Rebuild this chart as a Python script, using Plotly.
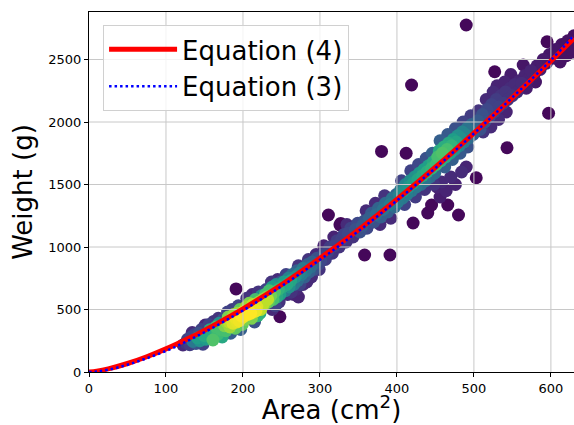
import plotly.graph_objects as go

# ---- tick labels ----
x_ticks = [0, 100, 200, 300, 400, 500, 600]
y_ticks = [0, 500, 1000, 1500, 2000, 2500]

# ---- fitted curves ----
curve_area = [0, 10, 25, 50, 75, 100, 125, 150, 175, 200, 250, 300, 350, 400, 450, 500, 550, 600, 630]
eq4_weight = [0, 7, 25, 68, 122, 185, 256, 333, 417, 505, 698, 910, 1137, 1381, 1638, 1911, 2195, 2488, 2670]
eq3_weight = [0, 4, 18, 58, 110, 168, 240, 318, 403, 492, 686, 898, 1127, 1372, 1632, 1908, 2198, 2495, 2694]

# ---- scatter points: (area cm2, weight g, point density 0..1) ----
pts_120_150 = [(126, 232, .15), (128, 262, .2), (131, 218, .18), (133, 280, .22), (135, 245, .4),
               (137, 300, .2), (139, 228, .25), (141, 272, .55), (143, 310, .25), (144, 250, .5),
               (134, 316, .12), (151, 376, .12), (146, 340, .2), (148, 222, .2), (150, 290, .6),
               (122, 216, .12)]
pts_150_175 = [(152, 262, .55), (155, 300, .6), (157, 338, .6), (159, 280, .6), (161, 256, .72),
               (163, 320, .62), (165, 360, .7), (167, 300, .68), (169, 390, .5), (171, 340, .7),
               (173, 280, .6), (174, 420, .25), (156, 380, .2), (162, 405, .15), (168, 430, .15)]
pts_175_200 = [(176, 370, .8), (178, 330, .7), (179, 400, .85), (181, 440, .8), (183, 360, .85),
               (185, 420, .92), (187, 390, .95), (188, 460, .85), (190, 350, .75), (191, 430, .97),
               (193, 470, .85), (195, 410, .98), (196, 500, .75), (198, 450, 1.0), (199, 380, .75),
               (180, 480, .2), (186, 500, .18), (194, 530, .2), (197, 340, .3), (184, 310, .3),
               (200, 440, .99), (192, 400, .96), (182, 400, .9)]
pts_200_225 = [(201, 480, .98), (203, 420, .8), (204, 520, .85), (206, 460, 1.0), (208, 550, .8),
               (209, 500, .97), (211, 430, .8), (213, 540, .9), (214, 480, .9), (216, 580, .7),
               (218, 520, .95), (219, 450, .65), (221, 560, .85), (223, 500, .9), (224, 610, .5),
               (205, 590, .15), (212, 620, .12), (220, 640, .15), (215, 400, .25), (222, 470, .6),
               (210, 470, 1.0), (217, 490, .97)]
pts_225_250 = [(226, 580, .85), (228, 540, .8), (229, 620, .7), (231, 600, .82), (233, 560, .75),
               (234, 650, .7), (236, 610, .78), (238, 680, .55), (239, 580, .7), (241, 640, .72),
               (243, 700, .5), (244, 600, .6), (246, 660, .65), (248, 620, .55), (249, 720, .25),
               (230, 660, .2), (237, 720, .15), (242, 530, .2), (247, 560, .15), (245, 740, .12),
               (238, 500, .12), (226, 540, .9), (232, 580, .9)]
pts_250_300 = [(251, 680, .6), (253, 720, .55), (255, 650, .4), (257, 700, .6), (259, 750, .45),
               (260, 680, .5), (262, 730, .58), (264, 780, .35), (266, 700, .4), (268, 760, .5),
               (270, 810, .3), (271, 730, .35), (273, 790, .45), (274, 700, .2), (256, 780, .2),
               (263, 640, .15), (269, 660, .12), (272, 850, .15), (258, 620, .12),
               (276, 780, .42), (278, 830, .4), (280, 760, .3), (282, 810, .38), (284, 860, .3),
               (286, 800, .3), (288, 840, .35), (290, 880, .3), (292, 820, .25), (294, 870, .3),
               (296, 910, .25), (298, 860, .22), (283, 720, .12), (289, 760, .12), (295, 940, .12),
               (285, 900, .15), (299, 820, .15), (266, 620, .1), (272, 600, .1), (278, 700, .12)]
pts_300_350 = [(301, 890, .22), (304, 940, .2), (307, 900, .18), (310, 960, .2), (313, 1000, .18),
               (316, 950, .15), (319, 1010, .2), (322, 1050, .18), (325, 1000, .15), (328, 1060, .2),
               (331, 1100, .2), (334, 1040, .15), (337, 1110, .22), (340, 1150, .2), (343, 1080, .15),
               (346, 1140, .25), (349, 1190, .22), (305, 1010, .1), (318, 1080, .1), (335, 1180, .12)]
pts_350_400 = [(352, 1120, .25), (355, 1170, .28), (358, 1210, .25), (361, 1150, .22), (364, 1230, .3),
               (367, 1270, .28), (370, 1200, .25), (373, 1260, .35), (376, 1310, .32), (379, 1240, .3),
               (382, 1300, .38), (385, 1350, .35), (388, 1280, .3), (391, 1340, .42), (394, 1390, .38),
               (397, 1320, .35), (399, 1420, .32), (360, 1290, .12), (372, 1350, .12), (384, 1410, .15),
               (378, 1180, .12), (392, 1230, .12)]
pts_400_450 = [(401, 1360, .42), (403, 1420, .45), (405, 1460, .4), (407, 1390, .4), (409, 1450, .5),
               (411, 1500, .45), (413, 1420, .42), (415, 1480, .52), (417, 1530, .48), (419, 1450, .4),
               (421, 1510, .55), (423, 1560, .5), (425, 1480, .4), (427, 1540, .58), (429, 1590, .52),
               (431, 1500, .35), (433, 1570, .6), (435, 1620, .55), (437, 1530, .38), (439, 1600, .62),
               (441, 1650, .56), (443, 1560, .35), (445, 1630, .65), (447, 1680, .6), (449, 1590, .35),
               (406, 1530, .2), (418, 1610, .2), (428, 1660, .22), (438, 1710, .25), (446, 1750, .3),
               (410, 1340, .2), (424, 1400, .18), (436, 1460, .15), (448, 1500, .15)]
pts_450_500 = [(451, 1660, .68), (453, 1720, .7), (455, 1770, .6), (457, 1690, .62), (459, 1750, .72),
               (461, 1800, .62), (463, 1720, .6), (465, 1780, .7), (467, 1830, .6), (469, 1750, .55),
               (471, 1810, .65), (473, 1860, .55), (475, 1780, .5), (477, 1840, .58), (479, 1890, .5),
               (481, 1810, .45), (483, 1870, .5), (485, 1920, .45), (487, 1840, .4), (489, 1900, .45),
               (491, 1950, .38), (493, 1870, .35), (495, 1930, .38), (497, 1980, .32), (499, 1900, .3),
               (456, 1850, .3), (466, 1900, .28), (476, 1950, .25), (486, 2000, .2), (496, 2050, .18),
               (462, 1640, .3), (472, 1700, .3), (482, 1750, .28), (492, 1800, .25),
               (452, 1480, .1), (458, 1520, .12), (464, 1450, .1), (470, 1560, .12), (476, 1500, .1),
               (484, 1600, .12), (490, 1640, .1), (456, 1400, .08)]
pts_500_560 = [(502, 1960, .3), (505, 2010, .28), (508, 1940, .25), (511, 2060, .25), (514, 2000, .25),
               (517, 2100, .22), (520, 2040, .22), (523, 2140, .2), (526, 2080, .2), (529, 2180, .18),
               (532, 2120, .2), (535, 2210, .15), (538, 2150, .18), (541, 2240, .15), (544, 2180, .15),
               (547, 2270, .12), (550, 2210, .15), (553, 2300, .12), (556, 2240, .12), (559, 2330, .1),
               (506, 2090, .15), (516, 2180, .12), (526, 2220, .1), (536, 2280, .1), (512, 1920, .15),
               (522, 1960, .12), (532, 2020, .12), (542, 2080, .1), (525, 2240, .12), (530, 2290, .1),
               (540, 2320, .1), (548, 2380, .08), (564, 2456, .06)]
pts_560_630 = [(562, 2310, .12), (566, 2370, .1), (570, 2340, .1), (574, 2410, .1), (578, 2380, .08),
               (582, 2450, .08), (586, 2420, .08), (590, 2500, .07), (594, 2470, .07), (598, 2540, .06),
               (602, 2510, .06), (606, 2580, .06), (610, 2560, .05), (614, 2620, .05), (618, 2600, .05),
               (622, 2650, .05), (626, 2620, .05), (630, 2690, .04), (568, 2270, .08), (580, 2320, .06),
               (612, 2480, .05), (620, 2530, .05), (628, 2560, .05)]
outliers = [(191, 665, .02), (248, 442, .02), (311, 1256, .02), (327, 1189, .02), (326, 1176, .02),
            (358, 936, .02), (391, 936, .02), (380, 1765, .02), (412, 1750, .02), (421, 1192, .02),
            (440, 1272, .02), (445, 1336, .02), (466, 1336, .02), (480, 1256, .02), (419, 2296, .02),
            (490, 2776, .02), (503, 1554, .02), (527, 2402, .02), (543, 1794, .02), (595, 2642, .02),
            (597, 2070, .02)]

groups = [pts_120_150, pts_150_175, pts_175_200, pts_200_225, pts_225_250, pts_250_300,
          pts_300_350, pts_350_400, pts_400_450, pts_450_500, pts_500_560, pts_560_630, outliers]
all_pts = sorted([p for g in groups for p in g], key=lambda p: p[2])
area = [p[0] for p in all_pts]
weight = [p[1] for p in all_pts]
dens = [p[2] for p in all_pts]

X_MAX, Y_MAX = 630, 2880
GRID = '#c8c8c8'

fig = go.Figure()
fig.add_trace(go.Scatter(
    x=area, y=weight, mode='markers', showlegend=False, hoverinfo='skip', cliponaxis=True,
    marker=dict(size=13, color=dens, colorscale='Viridis', cmin=0, cmax=1,
                line=dict(width=0), opacity=1)))

# grid lines drawn above the scatter but below the curves (as in the reference)
gx, gy = [], []
for t in x_ticks[1:]:
    gx += [t, t, None]
    gy += [0, Y_MAX, None]
for t in y_ticks[1:]:
    gx += [0, X_MAX, None]
    gy += [t, t, None]
fig.add_trace(go.Scatter(x=gx, y=gy, mode='lines', showlegend=False, hoverinfo='skip',
                         line=dict(color=GRID, width=1)))

fig.add_trace(go.Scatter(x=curve_area, y=eq4_weight, mode='lines', name='Equation (4)',
                         line=dict(color='red', width=5, shape='spline')))
fig.add_trace(go.Scatter(x=curve_area, y=eq3_weight, mode='lines', name='Equation (3)',
                         line=dict(color='blue', width=2.5, dash='2.5px,3px', shape='spline')))

fig.update_layout(
    width=574, height=425,
    margin=dict(l=89, r=0, t=12, b=53),
    paper_bgcolor='white', plot_bgcolor='white',
    font=dict(family='DejaVu Sans', color='black'),
    legend=dict(x=0.029, y=0.964, xanchor='left', yanchor='top',
                bgcolor='rgba(255,255,255,0.8)', bordercolor='#d0d0d0', borderwidth=1,
                font=dict(size=26), itemwidth=68, tracegroupgap=0),
    xaxis=dict(range=[0, X_MAX], tickmode='array', tickvals=x_ticks, automargin=False,
               ticktext=[str(t) for t in x_ticks], showgrid=False, zeroline=False,
               showline=True, linecolor='black', linewidth=1, mirror=True,
               ticks='outside', ticklen=4, tickcolor='black', tickfont=dict(size=13),
               title=dict(text='Area (cm<sup>2</sup>)', font=dict(size=26), standoff=6)),
    yaxis=dict(range=[0, Y_MAX], tickmode='array', tickvals=y_ticks, automargin=False,
               ticktext=[str(t) for t in y_ticks], showgrid=False, zeroline=False,
               showline=True, linecolor='black', linewidth=1, mirror=False,
               ticks='outside', ticklen=4, tickcolor='black', tickfont=dict(size=13),
               title=dict(text='Weight (g)', font=dict(size=26), standoff=8)),
)

fig.write_html("out.html", post_script="document.body.style.margin='0';",
               config={'displayModeBar': False})
